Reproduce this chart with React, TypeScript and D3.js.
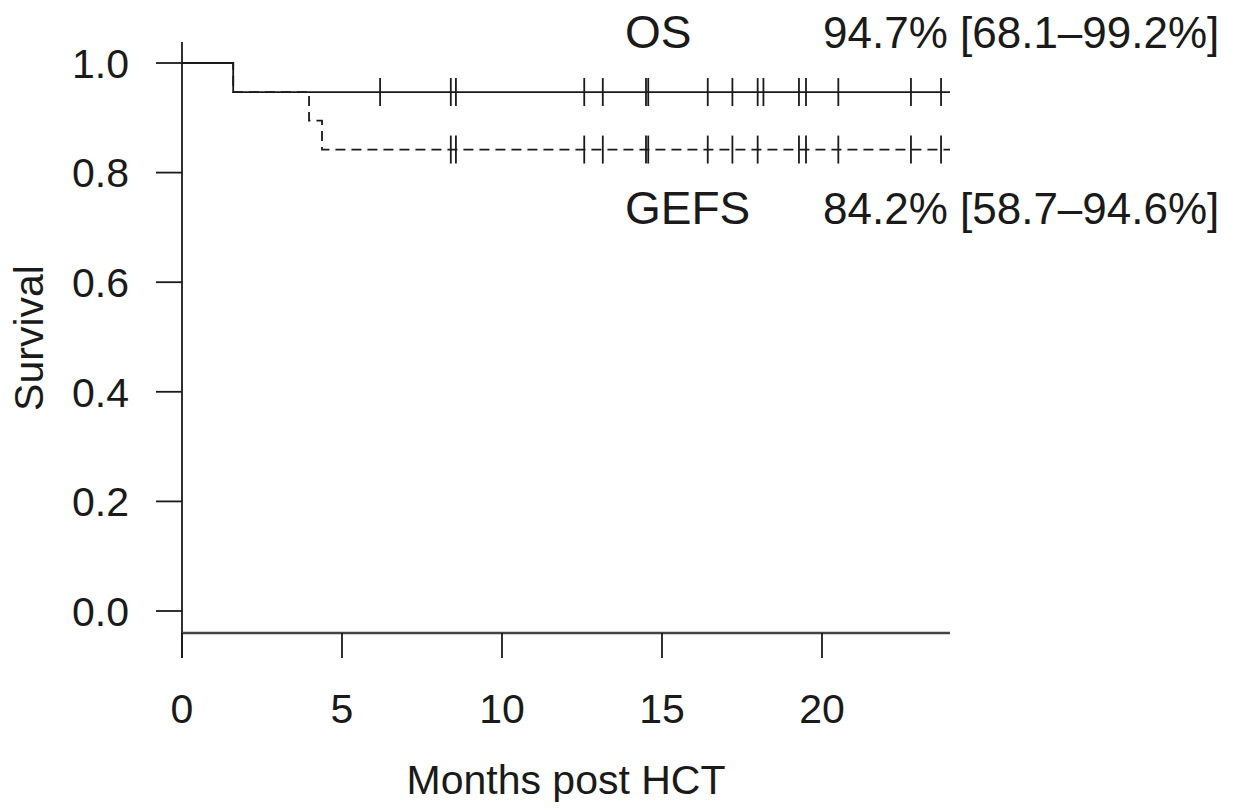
import React from "react";
import * as d3 from "d3";

// ---- data ----
const osEventTimes = [1.6];
const osSurvival = [1.0, 0.947];
const osCensorTimes = [6.19, 8.4, 8.56, 12.57, 13.15, 14.5, 14.57, 16.43, 17.2, 17.99, 18.17, 19.28, 19.5, 20.51, 22.78, 23.72];

const gefsEventTimes = [1.6, 3.97, 4.375];
const gefsSurvival = [1.0, 0.947, 0.895, 0.842];
const gefsCensorTimes = [8.4, 8.56, 12.57, 13.15, 14.5, 14.57, 16.43, 17.2, 17.99, 19.28, 19.5, 20.51, 22.78, 23.72];

const xTickValues = [0, 5, 10, 15, 20];
const yTickValues = [0, 0.2, 0.4, 0.6, 0.8, 1.0];
const maxTime = 24;

const osLabel = "OS";
const osStat = "94.7% [68.1\u201399.2%]";
const gefsLabel = "GEFS";
const gefsStat = "84.2% [58.7\u201394.6%]";
const xTitle = "Months post HCT";
const yTitle = "Survival";

// ---- layout ----
const W = 1234;
const H = 808;
const x = d3.scaleLinear().domain([0, maxTime]).range([182, 950]);
const y = d3.scaleLinear().domain([0, 1]).range([611, 63]);

const INK = "#1a1a1a";
const FONT = "'Liberation Sans', Arial, Helvetica, sans-serif";
const SW = 1.8;

function stepPoints(times: number[], surv: number[]): [number, number][] {
  const pts: [number, number][] = [[0, surv[0]]];
  times.forEach((t, i) => pts.push([t, surv[i + 1]]));
  pts.push([maxTime, surv[surv.length - 1]]);
  return pts;
}

function survAt(times: number[], surv: number[], t: number): number {
  let s = surv[0];
  times.forEach((et, i) => {
    if (t >= et) s = surv[i + 1];
  });
  return s;
}

const line = d3
  .line<[number, number]>()
  .x((d) => x(d[0]))
  .y((d) => y(d[1]))
  .curve(d3.curveStepAfter);

export default function App() {
  const osPts = stepPoints(osEventTimes, osSurvival);
  const gefsPts = stepPoints(gefsEventTimes, gefsSurvival);
  const tickHalf = 14;

  return (
    <svg
      width={W}
      height={H}
      viewBox={`0 0 ${W} ${H}`}
      style={{ position: "absolute", left: 0, top: 0, background: "#fff" }}
    >
      <rect x={0} y={0} width={W} height={H} fill="#fff" />

      {/* y axis */}
      <line x1={x(0)} x2={x(0)} y1={42} y2={658} stroke={INK} strokeWidth={SW} />
      {yTickValues.map((v) => (
        <g key={"y" + v}>
          <line x1={156} x2={x(0)} y1={y(v)} y2={y(v)} stroke={INK} strokeWidth={SW} />
          <text
            x={129}
            y={y(v)}
            dy="0.36em"
            textAnchor="end"
            fontFamily={FONT}
            fontSize={41}
            fill={INK}
          >
            {d3.format(".1f")(v)}
          </text>
        </g>
      ))}

      {/* x axis */}
      <line x1={x(0)} x2={x(maxTime)} y1={633} y2={633} stroke="#444" strokeWidth={2.4} />
      {xTickValues.map((v) => (
        <g key={"x" + v}>
          <line x1={x(v)} x2={x(v)} y1={633} y2={658} stroke={INK} strokeWidth={SW} />
          <text
            x={x(v)}
            y={723}
            textAnchor="middle"
            fontFamily={FONT}
            fontSize={41}
            fill={INK}
          >
            {v}
          </text>
        </g>
      ))}

      {/* axis titles */}
      <text
        x={(x(0) + x(maxTime)) / 2}
        y={794}
        textAnchor="middle"
        fontFamily={FONT}
        fontSize={41}
        fill={INK}
      >
        {xTitle}
      </text>
      <text
        transform={`translate(43, 338) rotate(-90)`}
        textAnchor="middle"
        fontFamily={FONT}
        fontSize={41}
        fill={INK}
      >
        {yTitle}
      </text>

      {/* GEFS curve (dashed) */}
      <path
        d={line(gefsPts) || ""}
        fill="none"
        stroke={INK}
        strokeWidth={SW}
        strokeDasharray="10,6"
      />
      {gefsCensorTimes.map((t, i) => {
        const s = survAt(gefsEventTimes, gefsSurvival, t);
        return (
          <line
            key={"gc" + i}
            x1={x(t)}
            x2={x(t)}
            y1={y(s) - tickHalf}
            y2={y(s) + tickHalf}
            stroke={INK}
            strokeWidth={SW}
          />
        );
      })}

      {/* OS curve (solid) */}
      <path d={line(osPts) || ""} fill="none" stroke={INK} strokeWidth={SW} />
      {osCensorTimes.map((t, i) => {
        const s = survAt(osEventTimes, osSurvival, t);
        return (
          <line
            key={"oc" + i}
            x1={x(t)}
            x2={x(t)}
            y1={y(s) - tickHalf}
            y2={y(s) + tickHalf}
            stroke={INK}
            strokeWidth={SW}
          />
        );
      })}

      {/* annotations */}
      <text x={625} y={48} fontFamily={FONT} fontSize={46} fill={INK}>
        {osLabel}
      </text>
      <text x={823} y={48} fontFamily={FONT} fontSize={44} fill={INK}>
        {osStat}
      </text>
      <text x={625} y={224} fontFamily={FONT} fontSize={46} fill={INK}>
        {gefsLabel}
      </text>
      <text x={823} y={224} fontFamily={FONT} fontSize={44} fill={INK}>
        {gefsStat}
      </text>
    </svg>
  );
}
